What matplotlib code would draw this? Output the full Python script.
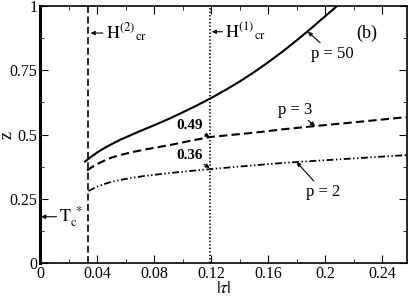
import matplotlib
matplotlib.use('Agg')
import matplotlib.pyplot as plt

plt.rcParams['font.family'] = ['Liberation Serif', 'DejaVu Serif']
plt.rcParams['mathtext.fontset'] = 'stix'
plt.rcParams['lines.scale_dashes'] = False

# curve p = 50 (solid)
x50 = [0.0316, 0.035, 0.04, 0.045, 0.05, 0.056, 0.063, 0.07, 0.08, 0.09, 0.1, 0.11,
       0.12, 0.13, 0.14, 0.15, 0.16, 0.17, 0.18, 0.19, 0.2, 0.2105]
z50 = [0.395, 0.41, 0.43, 0.447, 0.462, 0.479, 0.496, 0.513, 0.536, 0.56, 0.586, 0.613,
       0.642, 0.673, 0.706, 0.742, 0.781, 0.822, 0.866, 0.912, 0.96, 1.01]
# curve p = 3 (dashed)
x3 = [0.033, 0.036, 0.04, 0.045, 0.05, 0.056, 0.065, 0.075, 0.091, 0.105, 0.119, 0.135,
      0.15, 0.17, 0.193, 0.225, 0.2575]
z3 = [0.36, 0.372, 0.385, 0.398, 0.41, 0.42, 0.432, 0.443, 0.459, 0.475, 0.49, 0.499,
      0.507, 0.52, 0.533, 0.55, 0.568]
# curve p = 2 (dash-dot-dot)
x2 = [0.034, 0.037, 0.04, 0.045, 0.05, 0.056, 0.065, 0.075, 0.091, 0.105, 0.119, 0.135,
      0.15, 0.165, 0.18, 0.2, 0.22, 0.24, 0.2575]
z2 = [0.28, 0.289, 0.297, 0.307, 0.316, 0.323, 0.332, 0.34, 0.35, 0.358, 0.365, 0.373,
      0.38, 0.387, 0.393, 0.4, 0.407, 0.414, 0.42]

h2_x = 0.0337   # H_cr^(2)
h1_x = 0.1195   # H_cr^(1)
tc_z = 0.18     # T_c^*

xticks = [0, 0.04, 0.08, 0.12, 0.16, 0.2, 0.24]
xtick_labels = ['0', '0.04', '0.08', '0.12', '0.16', '0.2', '0.24']
yticks = [0, 0.25, 0.5, 0.75, 1]
ytick_labels = ['0', '0.25', '0.5', '0.75', '1']

fig = plt.figure(figsize=(4.09, 2.96), dpi=100)
ax = fig.add_axes([0.098, 0.1115, 0.897, 0.868])

ax.plot(x50, z50, color='black', lw=1.5)
ax.plot(x3, z3, color='black', lw=1.5, dashes=[6, 3])
ax.plot(x2, z2, color='black', lw=1.3, dashes=[5, 1.8, 1, 1.8, 1, 1.8])

ax.axvline(h2_x, color='black', lw=1.2, dashes=[5, 2.5])
ax.axvline(h1_x, color='black', lw=1.2, dashes=[1, 1.5])

ax.set_xlim(0, 0.2575)
ax.set_ylim(0, 1)
ax.set_xticks(xticks)
ax.set_xticklabels(xtick_labels)
ax.set_yticks(yticks)
ax.set_yticklabels(ytick_labels)
ax.set_xticks([0.02, 0.06, 0.1, 0.14, 0.18, 0.22], minor=True)
ax.set_yticks([0.125, 0.375, 0.625, 0.875], minor=True)
ax.tick_params(which='both', direction='in', top=True, right=True, labelsize=11.5, pad=2)
ax.tick_params(which='major', length=6)
ax.tick_params(which='minor', length=3)
for s in ax.spines.values():
    s.set_linewidth(1.2)
ax.spines['left'].set_linewidth(2.2)

ax.set_xlabel(r'$|\tau|$', fontsize=13, labelpad=-1)
ax.set_ylabel('z', fontsize=13)
ax.yaxis.set_label_coords(-0.066, 0.5)

arw = dict(arrowstyle='-|>', color='black', lw=0.8, mutation_scale=6, shrinkA=0, shrinkB=0)

ax.annotate(r'$\mathrm{H}^{(2)}{}_{\mathrm{cr}}$', xy=(0.0355, 0.895), xytext=(0.046, 0.895),
            fontsize=13, va='center', ha='left', arrowprops=arw)
ax.annotate(r'$\mathrm{H}^{(1)}{}_{\mathrm{cr}}$', xy=(0.1205, 0.9), xytext=(0.13, 0.9),
            fontsize=13, va='center', ha='left', arrowprops=arw)
ax.annotate(r'$\mathrm{T}_{\mathrm{c}}^{\ *}$', xy=(0.0008, tc_z), xytext=(0.0135, tc_z),
            fontsize=13, va='center', ha='left', arrowprops=arw)

ax.annotate('p = 50', xy=(0.188, 0.9), xytext=(0.205, 0.815),
            fontsize=12, ha='center', va='center', arrowprops=arw)
ax.annotate('p = 3', xy=(0.193, 0.533), xytext=(0.179, 0.597),
            fontsize=12, ha='center', va='center', arrowprops=arw)
ax.annotate('p = 2', xy=(0.18, 0.393), xytext=(0.199, 0.277),
            fontsize=12, ha='center', va='center', arrowprops=arw)
ax.annotate('0.49', xy=(0.119, 0.49), xytext=(0.105, 0.537),
            fontsize=11, fontweight='bold', ha='center', va='center', arrowprops=arw)
ax.annotate('0.36', xy=(0.119, 0.37), xytext=(0.105, 0.42),
            fontsize=11, fontweight='bold', ha='center', va='center', arrowprops=arw)
ax.text(0.229, 0.895, '(b)', fontsize=13, ha='center', va='center')

fig.savefig('out.png', dpi=100)
